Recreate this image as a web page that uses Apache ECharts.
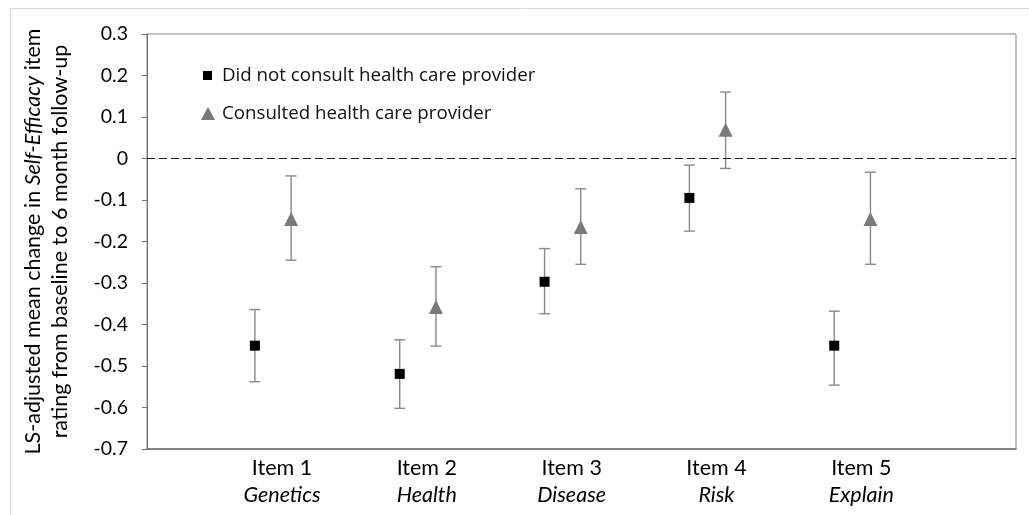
<!DOCTYPE html>
<html>
<head>
<meta charset="utf-8">
<script src="https://cdn.jsdelivr.net/npm/echarts@6/dist/echarts.min.js"></script>
<style>
  html, body { margin: 0; padding: 0; background: #ffffff; }
  #chart { width: 1029px; height: 515px; }
</style>
</head>
<body>
<div id="chart"></div>
<script>
// Self-efficacy items
const itemNumbers = ['Item 1', 'Item 2', 'Item 3', 'Item 4', 'Item 5'];
const itemNames = ['Genetics', 'Health', 'Disease', 'Risk', 'Explain'];
const groupNames = ['Did not consult health care provider', 'Consulted health care provider'];

// LS-adjusted mean change with lower / upper error limits
const notConsultedMean = [-0.451, -0.519, -0.297, -0.095, -0.451];
const notConsultedLow = [-0.538, -0.602, -0.374, -0.175, -0.546];
const notConsultedHigh = [-0.364, -0.437, -0.217, -0.016, -0.368];

const consultedMean = [-0.146, -0.358, -0.165, 0.069, -0.146];
const consultedLow = [-0.245, -0.452, -0.255, -0.024, -0.255];
const consultedHigh = [-0.042, -0.261, -0.073, 0.160, -0.033];

// y axis ticks
const yMin = -0.7, yMax = 0.3, yStep = 0.1;

// horizontal offset of each group from the item centre (in item units)
const shift = 0.125;

const xOf = (i, dir) => i + 1 + dir * shift;

const meanPoints = (vals, dir) => vals.map((v, i) => [xOf(i, dir), v]);
const barPoints = (lo, hi, dir) => lo.map((l, i) => [xOf(i, dir), l, hi[i]]);

const axisFont = 'Lato';
const legendFont = 'Open Sans';

function errorBar(color) {
  return function (params, api) {
    const x = api.value(0);
    const pLo = api.coord([x, api.value(1)]);
    const pHi = api.coord([x, api.value(2)]);
    const cap = 5.5;
    const st = { stroke: color, lineWidth: 1.4 };
    return {
      type: 'group',
      children: [
        { type: 'line', shape: { x1: pHi[0], y1: pHi[1], x2: pLo[0], y2: pLo[1] }, style: st },
        { type: 'line', shape: { x1: pHi[0] - cap, y1: pHi[1], x2: pHi[0] + cap, y2: pHi[1] }, style: st },
        { type: 'line', shape: { x1: pLo[0] - cap, y1: pLo[1], x2: pLo[0] + cap, y2: pLo[1] }, style: st }
      ]
    };
  };
}

const chart = echarts.init(document.getElementById('chart'), null, { renderer: 'canvas' });

const option = {
  backgroundColor: '#ffffff',
  animation: false,
  graphic: [{
    type: 'rect',
    z: -10,
    shape: { x: 10.5, y: 8.5, width: 1040, height: 520 },
    style: { fill: '#ffffff', stroke: '#d9d9d9', lineWidth: 1 }
  }],
  grid: {
    left: 147, right: 13, top: 34, bottom: 66,
    show: true, borderColor: '#868686', borderWidth: 1, backgroundColor: 'transparent'
  },
  legend: [{
    data: [groupNames[0]],
    left: 203, top: 66,
    padding: 0,
    orient: 'vertical',
    icon: 'rect',
    itemWidth: 9, itemHeight: 9,
    textStyle: { fontFamily: legendFont, fontSize: 18.7, color: '#111', padding: [0, 0, 0, 5] }
  }, {
    data: [groupNames[1]],
    left: 201, top: 104,
    padding: 0,
    orient: 'vertical',
    icon: 'triangle',
    itemWidth: 14, itemHeight: 13,
    textStyle: { fontFamily: legendFont, fontSize: 18.7, color: '#111', padding: [0, 0, 0, 2] }
  }],
  xAxis: {
    type: 'value',
    min: 0.13, max: 6.13,
    axisLine: { show: true, onZero: false, lineStyle: { color: '#707070', width: 1.5 } },
    axisTick: { show: false },
    splitLine: { show: false },
    axisLabel: {
      customValues: [1, 2, 3, 4, 5],
      margin: 6,
      padding: [0, 0, 0, 18],
      formatter: v => {
        const i = Math.round(v) - 1;
        return '{a|' + itemNumbers[i] + '}\n{b|' + itemNames[i] + '}';
      },
      rich: {
        a: { fontFamily: axisFont, fontSize: 21.5, color: '#000', lineHeight: 27, align: 'center' },
        b: { fontFamily: axisFont, fontSize: 21.5, fontStyle: 'italic', color: '#000', lineHeight: 27, align: 'center' }
      }
    }
  },
  yAxis: {
    type: 'value',
    min: yMin, max: yMax, interval: yStep,
    axisLine: { show: true, lineStyle: { color: '#707070', width: 1 } },
    axisTick: { show: true, inside: false, length: 5, lineStyle: { color: '#707070' } },
    splitLine: { show: false },
    axisLabel: {
      margin: 19,
      fontFamily: axisFont, fontSize: 19.5, color: '#000',
      formatter: v => {
        const r = Math.round(v * 10) / 10;
        return r === 0 ? '0' : r.toFixed(1);
      }
    },
    name: '{a|LS-adjusted mean change in }{i|Self-Efficacy}{a| item}\n{a|rating from baseline to 6 month follow-up}',
    nameLocation: 'middle',
    nameRotate: 90,
    nameGap: 73,
    nameTextStyle: {
      rich: {
        a: { fontFamily: axisFont, fontSize: 21.5, color: '#000', lineHeight: 27, align: 'center' },
        i: { fontFamily: axisFont, fontSize: 21.5, fontStyle: 'italic', color: '#000', lineHeight: 27, align: 'center' }
      }
    }
  },
  series: [{
    type: 'custom',
    name: 'err0',
    renderItem: errorBar('#8a8a8a'),
    data: barPoints(notConsultedLow, notConsultedHigh, -1),
    encode: { x: 0, y: [1, 2] },
    z: 2, silent: true
  }, {
    type: 'custom',
    name: 'err1',
    renderItem: errorBar('#8a8a8a'),
    data: barPoints(consultedLow, consultedHigh, 1),
    encode: { x: 0, y: [1, 2] },
    z: 2, silent: true
  }, {
    type: 'scatter',
    name: groupNames[0],
    symbol: 'rect',
    symbolSize: 10,
    itemStyle: { color: '#000000', opacity: 1 },
    data: meanPoints(notConsultedMean, -1),
    z: 4,
    markLine: {
      silent: true,
      symbol: ['none', 'none'],
      label: { show: false },
      lineStyle: { color: '#1a1a1a', width: 1, type: [8, 4] },
      data: [{ yAxis: 0 }]
    }
  }, {
    type: 'scatter',
    name: groupNames[1],
    symbol: 'triangle',
    symbolSize: [14, 14],
    itemStyle: { color: '#7a7a7a', opacity: 1 },
    data: meanPoints(consultedMean, 1),
    z: 4
  }]
};

chart.setOption(option);
</script>
</body>
</html>
